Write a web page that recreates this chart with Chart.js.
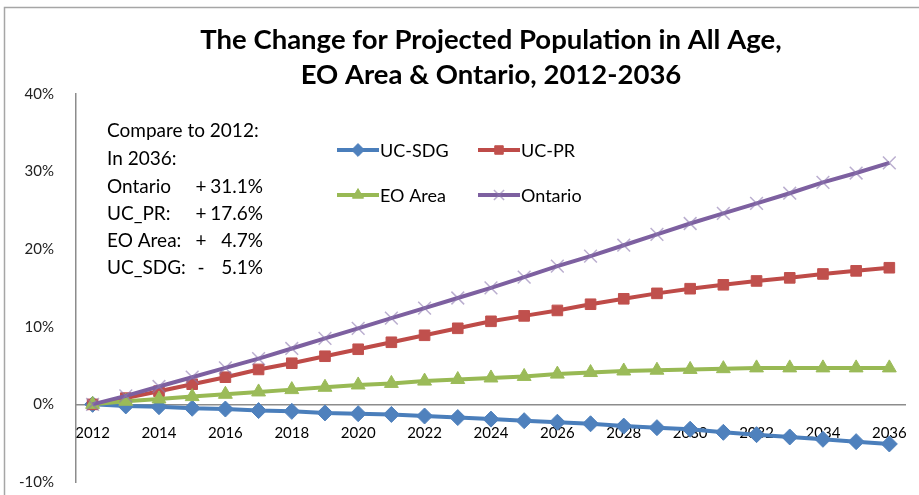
<!DOCTYPE html>
<html>
<head>
<meta charset="utf-8">
<script src="https://cdn.jsdelivr.net/npm/chart.js@4/dist/chart.umd.min.js"></script>
<style>
  html, body { margin: 0; padding: 0; background: #fff; }
  #wrap { width: 919px; height: 495px; position: relative; }
</style>
</head>
<body>
<div id="wrap"><canvas id="popChart"></canvas></div>
<script>
var years = [];
for (var y = 2012; y <= 2036; y++) years.push(String(y));

// percent change vs 2012
var ucSdg   = [0, -0.2, -0.3, -0.5, -0.6, -0.8, -0.9, -1.1, -1.2, -1.3, -1.5, -1.7, -1.9,
               -2.1, -2.3, -2.5, -2.8, -3.0, -3.2, -3.6, -3.9, -4.2, -4.5, -4.8, -5.1];
var ucPr    = [0, 0.8, 1.7, 2.6, 3.5, 4.5, 5.3, 6.2, 7.1, 8.0, 8.9, 9.8, 10.7,
               11.4, 12.1, 12.9, 13.6, 14.3, 14.9, 15.4, 15.9, 16.3, 16.8, 17.2, 17.6];
var eoArea  = [0, 0.4, 0.7, 1.0, 1.3, 1.6, 1.9, 2.2, 2.5, 2.7, 3.0, 3.2, 3.4,
               3.6, 3.9, 4.1, 4.3, 4.4, 4.5, 4.6, 4.7, 4.7, 4.7, 4.7, 4.7];
var ontario = [0, 1.1, 2.3, 3.5, 4.7, 5.9, 7.2, 8.5, 9.8, 11.1, 12.4, 13.7, 15.0,
               16.4, 17.8, 19.1, 20.5, 21.9, 23.3, 24.6, 25.9, 27.2, 28.6, 29.8, 31.1];

var yTicks = [-10, 0, 10, 20, 30, 40];
var titleLines = ['The Change for Projected Population in All Age,', 'EO Area & Ontario, 2012-2036'];

// summary box rows: [label, series]
var summaryRows = [['Ontario', ontario], ['UC_PR:', ucPr], ['EO Area:', eoArea], ['UC_SDG:', ucSdg]];

var FONT = 'Lato, "Open Sans", sans-serif';

// white background + thin frame
var framePlugin = {
  id: 'frame',
  beforeDraw: function(chart) {
    var ctx = chart.ctx;
    ctx.save();
    ctx.fillStyle = '#fff';
    ctx.fillRect(0, 0, chart.width, chart.height);
    ctx.strokeStyle = '#a6a6a6';
    ctx.lineWidth = 1.5;
    ctx.beginPath();
    ctx.moveTo(4.5, chart.height);
    ctx.lineTo(4.5, 7.5);
    ctx.lineTo(chart.width, 7.5);
    ctx.stroke();
    ctx.restore();
  }
};

// 2x2 legend inside the plot
var legendSpots = [[337, 150], [478, 150], [337, 195], [478, 195]];
var legendPlugin = {
  id: 'gridLegend',
  afterDraw: function(chart) {
    var ctx = chart.ctx;
    ctx.save();
    chart.data.datasets.forEach(function(ds, i) {
      var p = legendSpots[i];
      ctx.strokeStyle = ds.borderColor;
      ctx.lineWidth = ds.borderWidth;
      ctx.beginPath();
      ctx.moveTo(p[0], p[1]);
      ctx.lineTo(p[0] + 42, p[1]);
      ctx.stroke();
      ctx.fillStyle = ds.pointBackgroundColor;
      ctx.strokeStyle = ds.pointBorderColor;
      ctx.lineWidth = ds.pointBorderWidth;
      Chart.helpers.drawPoint(ctx, {pointStyle: ds.pointStyle, radius: ds.pointRadius * 0.8, borderWidth: ds.pointBorderWidth}, p[0] + 21, p[1]);
      ctx.fillStyle = '#000';
      ctx.font = '18px ' + FONT;
      ctx.textBaseline = 'middle';
      ctx.textAlign = 'left';
      ctx.fillText(ds.label, p[0] + 43, p[1] + 1);
    });
    ctx.restore();
  }
};

// "Compare to 2012" text block
var summaryPlugin = {
  id: 'summary',
  afterDraw: function(chart) {
    var ctx = chart.ctx;
    ctx.save();
    ctx.fillStyle = '#000';
    ctx.font = '19px ' + FONT;
    ctx.textBaseline = 'middle';
    ctx.textAlign = 'left';
    ctx.fillText('Compare to 2012:', 107, 131);
    ctx.fillText('In ' + years[years.length - 1] + ':', 107, 159);
    summaryRows.forEach(function(r, i) {
      var yy = 187 + i * 27;
      var last = r[1][r[1].length - 1];
      ctx.textAlign = 'left';
      ctx.fillText(r[0], 107, yy);
      ctx.textAlign = 'center';
      ctx.fillText(last < 0 ? '-' : '+', 201, yy);
      ctx.textAlign = 'right';
      ctx.fillText(Math.abs(last).toFixed(1) + '%', 263, yy);
    });
    ctx.restore();
  }
};

var data = {
  labels: years,
  datasets: [
    {
      label: 'UC-SDG', data: ucSdg, order: 4,
      borderColor: '#4a7ebb', borderWidth: 4,
      pointStyle: 'rectRot', pointRadius: 8,
      pointBackgroundColor: '#4f81bd', pointBorderColor: '#4f81bd', pointBorderWidth: 1
    },
    {
      label: 'UC-PR', data: ucPr, order: 3,
      borderColor: '#be4b48', borderWidth: 4,
      pointStyle: 'rect', pointRadius: 7.5,
      pointBackgroundColor: '#c0504d', pointBorderColor: '#c0504d', pointBorderWidth: 1
    },
    {
      label: 'EO Area', data: eoArea, order: 2,
      borderColor: '#98b954', borderWidth: 4,
      pointStyle: 'triangle', pointRadius: 8,
      pointBackgroundColor: '#9bbb59', pointBorderColor: '#9bbb59', pointBorderWidth: 1
    },
    {
      label: 'Ontario', data: ontario, order: 1,
      borderColor: '#7d60a0', borderWidth: 4,
      pointStyle: 'crossRot', pointRadius: 9,
      pointBackgroundColor: 'rgba(140,120,175,0.6)', pointBorderColor: 'rgba(140,120,175,0.6)', pointBorderWidth: 1.5
    }
  ]
};

var config = {
  type: 'line',
  data: data,
  options: {
    responsive: true,
    maintainAspectRatio: false,
    animation: false,
    layout: { padding: { top: 4, left: 6, right: 7, bottom: 13 } },
    plugins: {
      legend: { display: false },
      tooltip: { enabled: false },
      title: {
        display: true,
        fullSize: false,
        text: titleLines,
        color: '#000',
        font: { family: FONT, size: 27.5, weight: 'bold', lineHeight: 1.27 },
        padding: { top: 19, bottom: 1 }
      }
    },
    scales: {
      x: {
        type: 'category',
        offset: true,
        position: { y: 0 },
        // axis sits on the 0% line, so it takes no room at the bottom
        afterFit: function(scale) { scale.height = 0; },
        grid: { display: false },
        border: { display: true, color: '#8c8c8c', width: 1.5 },
        ticks: {
          autoSkip: false, maxRotation: 0, padding: 12,
          color: '#000',
          font: { family: FONT, size: 15 },
          callback: function(v, i) { return i % 2 === 0 ? this.getLabelForValue(v) : ''; }
        }
      },
      y: {
        min: yTicks[0], max: yTicks[yTicks.length - 1],
        afterFit: function(scale) { scale.width = 70; scale.paddingTop = 0; scale.paddingBottom = 0; },
        afterBuildTicks: function(scale) { scale.ticks = yTicks.map(function(v) { return {value: v}; }); },
        grid: { display: false },
        border: { display: true, color: '#8c8c8c', width: 1.5 },
        ticks: {
          padding: 14,
          color: '#222',
          font: { family: FONT, size: 15 },
          callback: function(v) { return v + '%'; }
        }
      }
    }
  },
  plugins: [framePlugin, legendPlugin, summaryPlugin]
};

var myChart = new Chart(document.getElementById('popChart'), config);
</script>
</body>
</html>
